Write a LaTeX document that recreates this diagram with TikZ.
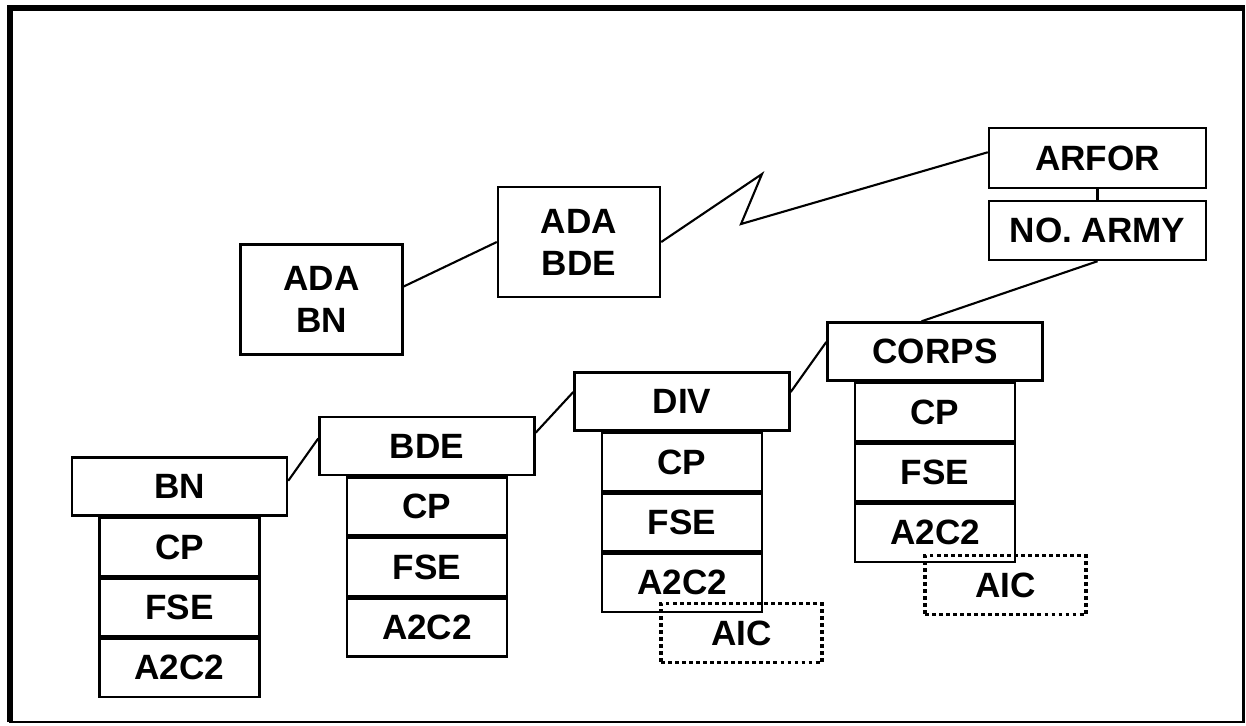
\documentclass[tikz,border=0pt]{standalone}
\usepackage{fontspec}
\setmainfont{Liberation Sans}
\usetikzlibrary{positioning}

\tikzset{
	box/.style={draw, line width=1.4pt, inner sep=0pt, align=center, font=\bfseries\fontsize{20}{24}\selectfont},
	head/.style={box, minimum width=4.3cm, minimum height=1.16cm},
	cell/.style={box, minimum width=3.2cm, minimum height=1.16cm},
	adabox/.style={box, minimum width=3.24cm, minimum height=2.2cm},
	topbox/.style={box, minimum width=4.34cm, minimum height=1.2cm},
	aicbox/.style={box, line width=2.2pt, dash pattern=on 2.2pt off 1.8pt, minimum width=3.22cm, minimum height=1.18cm},
	link/.style={line width=1.2pt}
}

\begin{document}
\begin{tikzpicture}[x=0.02cm, y=-0.02cm]
			%%%%% FRAME %%%%%
			\useasboundingbox (0, 0) rectangle (1246, 725);
			\draw[line width=1.2pt] (10, 8) rectangle (1243.5, 722);
			\draw[line width=3.4pt] (10, 722) -- (10, 8) -- (1244.5, 8);
			
			%%%%% ADA SIDE %%%%%
			\node[adabox] (adabn) at (321.5, 299.5) {ADA\\BN};
			\node[adabox] (adabde) at (579, 242) {ADA\\BDE};
			\node[topbox] (arfor) at (1097.5, 158) {ARFOR};
			\node[topbox, minimum height=1.18cm] (army) at (1097.5, 230.5) {NO. ARMY};
			
			\coordinate (zigtop) at (762, 174);
			\coordinate (zigbot) at (741, 224);
			
			\draw[link] (adabn.9) -- (adabde.west);
			\draw[link] (adabde.east) -- (zigtop) -- (zigbot) -- (arfor.177);
			\draw[link] (arfor.south) -- (army.north);
			
			%%%%% ECHELONS %%%%%
			\node[head] (bn) at (179.5, 486.5) {BN};
			\node[cell, below=0pt of bn] (bncp) {CP};
			\node[cell, below=0pt of bncp] (bnfse) {FSE};
			\node[cell, below=0pt of bnfse] (bna2c2) {A2C2};
			
			\node[head] (bde) at (427, 446) {BDE};
			\node[cell, below=0pt of bde] (bdecp) {CP};
			\node[cell, below=0pt of bdecp] (bdefse) {FSE};
			\node[cell, below=0pt of bdefse] (bdea2c2) {A2C2};
			
			\node[head] (div) at (682, 401.5) {DIV};
			\node[cell, below=0pt of div] (divcp) {CP};
			\node[cell, below=0pt of divcp] (divfse) {FSE};
			\node[cell, below=0pt of divfse] (diva2c2) {A2C2};
			\node[aicbox] (divaic) at (741.5, 633) {AIC};
			
			\node[head] (corps) at (935, 351.5) {CORPS};
			\node[cell, below=0pt of corps] (corpscp) {CP};
			\node[cell, below=0pt of corpscp] (corpsfse) {FSE};
			\node[cell, below=0pt of corpsfse] (corpsa2c2) {A2C2};
			\node[aicbox] (corpsaic) at (1005.5, 585) {AIC};
			
			\draw[link] (bn.3.5) -- (bde.176);
			\draw[link] (bde.7) -- (div.175);
			\draw[link] (div.5) -- (corps.175);
			\draw[link] (army.south) -- (corps.114);
			
			%%%%% END %%%%%
\end{tikzpicture}
\end{document}
